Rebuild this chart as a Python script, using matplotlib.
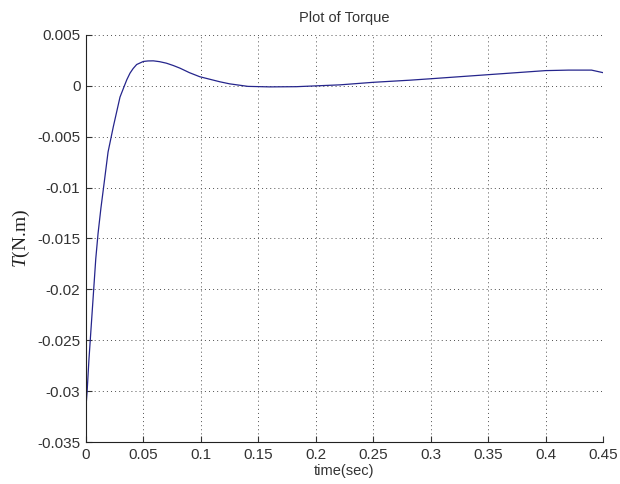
import matplotlib
matplotlib.use("Agg")
import matplotlib.pyplot as plt

# values
time_s = [0.0, 0.001, 0.0025, 0.004, 0.0055, 0.007, 0.0085, 0.0105, 0.013,
          0.0155, 0.0192, 0.0238, 0.027, 0.0296, 0.0334, 0.0355, 0.0383,
          0.041, 0.0441, 0.0499, 0.054, 0.0586, 0.064, 0.070, 0.076, 0.0818,
          0.09, 0.099, 0.1166, 0.125, 0.141, 0.16, 0.183, 0.2, 0.221, 0.25,
          0.282, 0.3, 0.35, 0.4, 0.42, 0.44, 0.45]
torque = [-0.0315, -0.030, -0.027, -0.0245, -0.022, -0.0195, -0.017, -0.0145,
          -0.012, -0.0098, -0.0065, -0.0040, -0.0024, -0.0011, 0.0, 0.0006,
          0.00125, 0.0017, 0.0021, 0.0024, 0.00245, 0.00246, 0.00238, 0.00223,
          0.002, 0.00174, 0.0013, 0.0009, 0.0004, 0.0002, -0.00005, -0.0001,
          -0.00008, 0.0, 0.0001, 0.00035, 0.00056, 0.0007, 0.0011, 0.0015,
          0.00155, 0.00155, 0.0013]

xticks = [0, 0.05, 0.1, 0.15, 0.2, 0.25, 0.3, 0.35, 0.4, 0.45]
xtick_labels = ["0", "0.05", "0.1", "0.15", "0.2", "0.25", "0.3", "0.35", "0.4", "0.45"]
yticks = [0.005, 0, -0.005, -0.01, -0.015, -0.02, -0.025, -0.03, -0.035]
ytick_labels = ["0.005", "0", "-0.005", "-0.01", "-0.015", "-0.02", "-0.025", "-0.03", "-0.035"]

plt.rcParams['font.family'] = ['Liberation Sans', 'DejaVu Sans']
plt.rcParams['mathtext.fontset'] = 'custom'
plt.rcParams['mathtext.it'] = 'Liberation Serif:italic'
plt.rcParams['mathtext.rm'] = 'Liberation Serif'

fig = plt.figure(figsize=(6.2, 4.84), dpi=100)
ax = fig.add_axes([86 / 620, 1 - 442 / 484, 517 / 620, 407 / 484])

ax.plot(time_s, torque, color='#25258c', linewidth=0.9)

ax.set_xlim(0, 0.45)
ax.set_ylim(-0.035, 0.005)
ax.set_xticks(xticks)
ax.set_xticklabels(xtick_labels)
ax.set_yticks(yticks)
ax.set_yticklabels(ytick_labels)
ax.tick_params(direction='in', length=4, width=0.8, labelsize=11, colors='#333333', pad=4)

ax.spines['top'].set_visible(False)
ax.spines['right'].set_visible(False)
for side in ['left', 'bottom']:
    ax.spines[side].set_linewidth(0.8)
    ax.spines[side].set_color('#222222')

ax.grid(True, color='#505050', linestyle=(0, (1, 3.2)), linewidth=0.7)
ax.set_axisbelow(True)

ax.set_title("Plot of Torque", fontsize=10.5, pad=9, color='#333333')
ax.set_xlabel("time(sec)", fontsize=10.5, labelpad=2, color='#333333')
ax.set_ylabel(r"$T$(N.m)", fontsize=14, family='Liberation Serif', labelpad=4, color='#222222')

fig.savefig("out.png", dpi=100)
